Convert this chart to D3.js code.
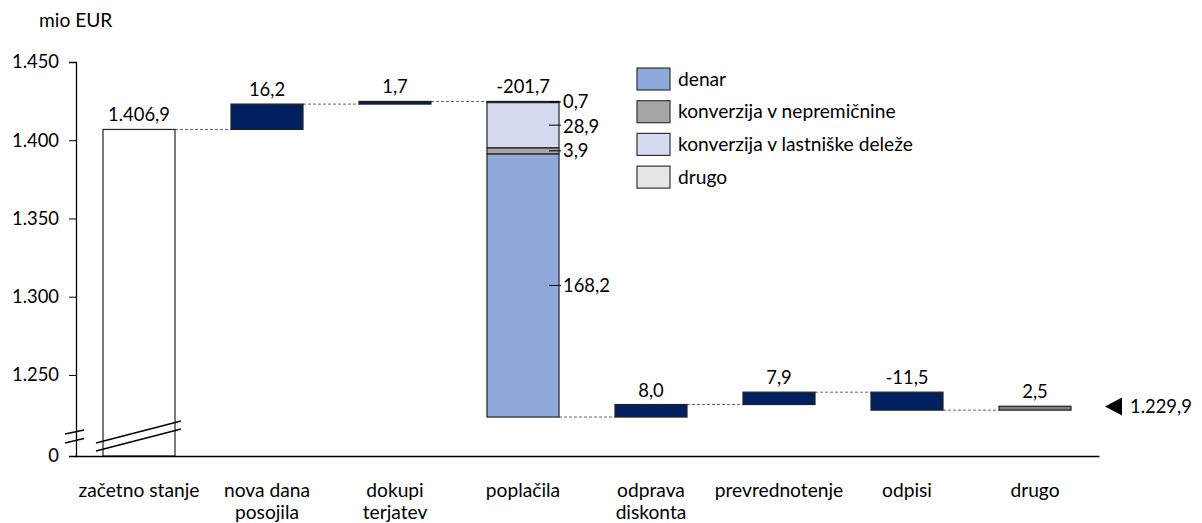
<!DOCTYPE html>
<html>
<head>
<meta charset="utf-8">
<script src="https://cdn.jsdelivr.net/npm/d3@7/dist/d3.min.js"></script>
<style>
  html, body { margin: 0; padding: 0; background: #fff; }
  svg { display: block; }
  text { font-family: Lato, "Open Sans", sans-serif; fill: #000; }
</style>
</head>
<body>
<svg id="chart" width="1202" height="523"></svg>
<script>
// ---------- data ----------
const categories = ["začetno stanje", "nova dana\nposojila", "dokupi\nterjatev", "poplačila",
                    "odprava\ndiskonta", "prevrednotenje", "odpisi", "drugo"];
const startValue = 1406.9;
const changes = [null, 16.2, 1.7, -201.7, 8.0, 7.9, -11.5, 2.5];
const repaymentParts = ["denar", "konverzija v nepremičnine", "konverzija v lastniške deleže", "drugo"];
const repaymentValues = [168.2, 3.9, 28.9, 0.7];
const endValue = 1229.9;
const yTicks = [1250, 1300, 1350, 1400, 1450];
const yBreakLabel = "0";
const unitLabel = "mio EUR";

// ---------- styles ----------
const navy = "#002060";
const barFill = ["#ffffff", navy, navy, null, navy, navy, navy, "#808080"];
const partFill = ["#8FA9DA", "#A6A6A6", "#D6DAF0", "#E7E6E6"];
const FS = "19.2px";   // words
const FN = "18.4px";   // numbers

const locale = d3.formatLocale({decimal: ",", thousands: ".", grouping: [3], currency: ["", ""], minus: "-"});
const fmt1 = locale.format(",.1f");
const fmt0 = locale.format(",.0f");

const svg = d3.select("#chart");

const yMin = 1198.2;
const y = d3.scaleLinear().domain([yMin, 1450]).range([456, 62]);
const x = d3.scaleBand().domain(categories).range([75, 1099]).paddingInner(0.4375).paddingOuter(0.21875);
const bw = x.bandwidth();

// running totals
const bars = [];
let run = startValue;
categories.forEach((c, i) => {
  if (i === 0) {
    bars.push({c, i, lo: yMin, hi: startValue, top: startValue, label: fmt1(startValue)});
  } else {
    const v = changes[i];
    const a = run, b = run + v;
    bars.push({c, i, lo: Math.min(a, b), hi: Math.max(a, b), top: Math.max(a, b), start: a, end: b, label: fmt1(v)});
    run = b;
  }
});

// connectors
const g = svg.append("g");
for (let i = 0; i < bars.length - 1; i++) {
  const level = i === 0 ? startValue : bars[i].end;
  g.append("line")
    .attr("x1", x(categories[i]) + bw).attr("x2", x(categories[i + 1]))
    .attr("y1", y(level)).attr("y2", y(level))
    .attr("stroke", "#666").attr("stroke-width", 1).attr("stroke-dasharray", "3,2");
}

// simple bars
bars.forEach(b => {
  if (b.i === 3) return;
  g.append("rect")
    .attr("x", x(b.c)).attr("width", bw)
    .attr("y", y(b.hi)).attr("height", Math.max(1, y(b.lo) - y(b.hi)))
    .attr("fill", barFill[b.i]).attr("stroke", "#222").attr("stroke-width", 1.2);
});

// stacked repayment bar
const rb = bars[3];
let base = rb.lo;
const segs = repaymentValues.map((v, k) => {
  const s = {k, v, lo: base, hi: base + v};
  base += v;
  return s;
});
segs.forEach(s => {
  g.append("rect")
    .attr("x", x(rb.c)).attr("width", bw)
    .attr("y", y(s.hi)).attr("height", Math.max(0.8, y(s.lo) - y(s.hi)))
    .attr("fill", partFill[s.k]).attr("stroke", "#222").attr("stroke-width", 1.2);
});

// segment labels with leader ticks (resolve overlaps from top)
const segLab = segs.slice().reverse().map(s => ({s, ym: y((s.lo + s.hi) / 2)}));
let prev = -Infinity;
segLab.forEach(d => { d.ly = Math.max(d.ym, prev + 24.5); prev = d.ly; });
const rx = x(rb.c) + bw;
segLab.forEach(d => {
  g.append("line").attr("x1", rx - 10).attr("x2", rx + 2).attr("y1", d.ym).attr("y2", d.ym)
    .attr("stroke", "#000").attr("stroke-width", 1);
  g.append("text").attr("x", rx + 4).attr("y", d.ly).attr("dy", "0.35em")
    .style("font-size", FN).text(fmt1(d.s.v));
});

// value labels
bars.forEach(b => {
  g.append("text").attr("x", x(b.c) + bw / 2).attr("y", y(b.top) - 8)
    .attr("text-anchor", "middle").style("font-size", FN).text(b.label);
});

// axis break on the first bar
const bx0 = x(categories[0]) - 7, bx1 = x(categories[0]) + bw + 6;
[[-13, -35], [-5, -27]].forEach(([a, b]) => {
  g.append("line").attr("x1", bx0).attr("x2", bx1).attr("y1", 456 + a).attr("y2", 456 + b)
    .attr("stroke", "#000").attr("stroke-width", 1.3);
});

// y axis
const yAxis = d3.axisLeft(y)
  .tickValues([yMin].concat(yTicks))
  .tickFormat(d => d === yMin ? yBreakLabel : fmt0(d))
  .tickSizeOuter(0).tickSize(7).tickPadding(10);
const ya = svg.append("g").attr("transform", "translate(76,0)").call(yAxis);
ya.selectAll("text").style("font-size", FN).style("font-family", "Lato, sans-serif").attr("fill", "#000");
ya.selectAll("line").attr("stroke", "#000");
ya.select(".domain").attr("stroke", "#000").attr("stroke-width", 1.3);

// y break marks
[[434, 430], [443, 438.5]].forEach(([a, b]) => {
  svg.append("line").attr("x1", 65).attr("x2", 84).attr("y1", a).attr("y2", b)
    .attr("stroke", "#000").attr("stroke-width", 1.3);
});

// x axis
const xAxis = d3.axisBottom(x).tickSize(0).tickSizeOuter(0).tickFormat("");
const xa = svg.append("g").attr("transform", "translate(0,456)").call(xAxis);
xa.select(".domain").attr("stroke", "#000").attr("stroke-width", 1.3);
categories.forEach(c => {
  const lines = c.split("\n");
  const t = svg.append("text").attr("x", x(c) + bw / 2).attr("y", 497)
    .attr("text-anchor", "middle").style("font-size", FS);
  lines.forEach((l, k) => t.append("tspan").attr("x", x(c) + bw / 2).attr("dy", k === 0 ? 0 : 22).text(l));
});

// unit label
svg.append("text").attr("x", 39).attr("y", 27).style("font-size", FS).text(unitLabel);

// legend
const lg = svg.append("g").attr("transform", "translate(637,68)");
repaymentParts.forEach((p, k) => {
  const row = lg.append("g").attr("transform", `translate(0,${k * 32.7})`);
  row.append("rect").attr("width", 33).attr("height", 22).attr("fill", partFill[k])
    .attr("stroke", "#333").attr("stroke-width", 1.2);
  row.append("text").attr("x", 41).attr("y", 11).attr("dy", "0.35em").style("font-size", FS).text(p);
});

// end marker
const ey = y(endValue);
svg.append("path").attr("d", `M1105,${ey} L1122,${ey - 9} L1122,${ey + 9} Z`).attr("fill", "#000");
svg.append("text").attr("x", 1130).attr("y", ey).attr("dy", "0.35em").style("font-size", FN).text(fmt1(endValue));
</script>
</body>
</html>
